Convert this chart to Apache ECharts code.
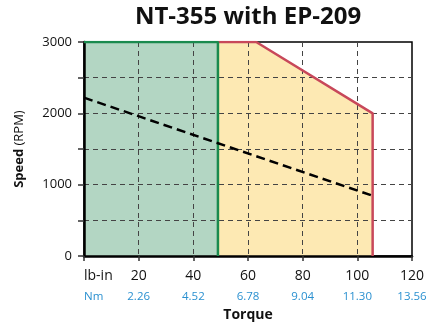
<!DOCTYPE html>
<html>
<head>
<meta charset="utf-8">
<script src="https://cdn.jsdelivr.net/npm/echarts@6/dist/echarts.min.js"></script>
<style>html,body{margin:0;padding:0;background:#fff}#c{width:435px;height:327px}</style>
</head>
<body>
<div id="c"></div>
<script>
const lbinLabels = ['lb-in', '20', '40', '60', '80', '100', '120'];
const nmLabels = ['Nm', '2.26', '4.52', '6.78', '9.04', '11.30', '13.56'];
const continuousZone = [[0, 3000], [49, 3000], [49, 0]];
const intermittentZone = [[49, 3000], [63, 3000], [105.6, 2000], [105.6, 0]];
const loadLine = [[0, 2220], [106, 840]];

const FONT = 'Open Sans';
const chart = echarts.init(document.getElementById('c'), null, {renderer: 'canvas'});
chart.setOption({
  animation: false,
  title: {
    text: 'NT-355 with EP-209',
    left: 243, top: 0, textAlign: 'center',
    textStyle: {fontFamily: FONT, fontSize: 24, fontWeight: 'bold', color: '#111'}
  },
  grid: {left: 84, right: 23, top: 42, bottom: 69, show: true, borderColor: '#000', borderWidth: 1.5, backgroundColor: '#fff'},
  xAxis: {
    type: 'value', min: 0, max: 120, interval: 20, z: 3,
    name: 'Torque', nameLocation: 'middle', nameGap: 50,
    nameTextStyle: {fontFamily: FONT, fontSize: 14, fontWeight: 'bold', color: '#111'},
    axisLine: {lineStyle: {color: '#000', width: 2.5}},
    axisTick: {show: true, length: 5, lineStyle: {color: '#333', width: 1.5}},
    splitLine: {show: true, showMinLine: false, showMaxLine: false, lineStyle: {color: '#444', type: [5, 4], width: 1}},
    axisLabel: {
      margin: 10,
      alignMinLabel: 'left',
      formatter: function (v) { const i = Math.round(v / 20); return '{a|' + lbinLabels[i] + '}\n{b|' + nmLabels[i] + '}'; },
      rich: {
        a: {fontFamily: FONT, fontSize: 14, color: '#111', lineHeight: 20},
        b: {fontFamily: FONT, fontSize: 11.5, color: '#2a90d0', lineHeight: 22}
      }
    }
  },
  yAxis: {
    type: 'value', min: 0, max: 3000, interval: 500, z: 3,
    name: '{s|Speed} {r|(RPM)}', nameLocation: 'middle', nameGap: 58,
    nameTextStyle: {rich: {
      s: {fontFamily: FONT, fontSize: 13, fontWeight: 'bold', color: '#111'},
      r: {fontFamily: FONT, fontSize: 13, color: '#111'}
    }},
    axisLine: {show: true, lineStyle: {color: '#000', width: 2.5}},
    axisTick: {show: true, length: 6, lineStyle: {color: '#333', width: 1.5}},
    splitLine: {show: true, showMinLine: false, showMaxLine: false, lineStyle: {color: '#444', type: [5, 4], width: 1}},
    axisLabel: {
      margin: 12, fontFamily: FONT, fontSize: 13, color: '#111',
      formatter: function (v) { return v % 1000 === 0 ? String(v) : ''; }
    }
  },
  series: [
    {type: 'line', data: intermittentZone, z: 1, symbol: 'none', lineStyle: {width: 0}, areaStyle: {color: '#fde9b3', opacity: 1}},
    {type: 'line', data: continuousZone, z: 1, symbol: 'none', lineStyle: {width: 0}, areaStyle: {color: '#b3d6c3', opacity: 1}},
    {type: 'line', data: intermittentZone, z: 4, symbol: 'none', lineStyle: {color: '#c8485a', width: 2.5}},
    {type: 'line', data: continuousZone, z: 4, symbol: 'none', lineStyle: {color: '#1a8a4e', width: 2.5}},
    {type: 'line', data: loadLine, z: 5, symbol: 'none', lineStyle: {color: '#000', width: 2.5, type: [9, 5]}}
  ]
});
</script>
</body>
</html>
